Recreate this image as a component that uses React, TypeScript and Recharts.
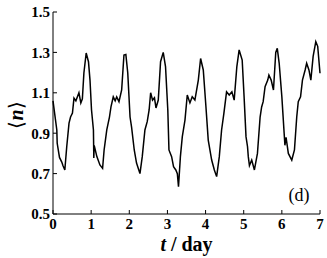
import { LineChart, Line, XAxis, YAxis, Label } from 'recharts';

// time in days and mean occupation <n>
const timeDays = [
  0.0, 0.1, 0.11, 0.17, 0.23, 0.26, 0.31, 0.36, 0.42, 0.46, 0.51, 0.55, 0.6, 0.64, 0.68, 0.73, 0.77, 0.81, 0.87,
  0.93, 0.97, 1.01, 1.06, 1.07, 1.08, 1.15, 1.23, 1.3, 1.34, 1.41, 1.48, 1.52, 1.58, 1.63, 1.67, 1.73, 1.8, 1.86,
  1.91, 1.96, 2.02, 2.06, 2.13, 2.19, 2.28, 2.34, 2.41, 2.47, 2.52, 2.56, 2.61, 2.66, 2.7, 2.76, 2.82, 2.89, 2.95,
  3.01, 3.04, 3.11, 3.16, 3.22, 3.26, 3.29, 3.34, 3.39, 3.46, 3.52, 3.59, 3.65, 3.72, 3.81, 3.87, 3.94, 4.01, 4.07,
  4.16, 4.23, 4.29, 4.36, 4.42, 4.48, 4.55, 4.62, 4.69, 4.75, 4.82, 4.88, 4.96, 5.01, 5.06, 5.1, 5.12, 5.15, 5.21,
  5.28, 5.36, 5.43, 5.47, 5.51, 5.56, 5.63, 5.66, 5.72, 5.78, 5.84, 5.88, 5.93, 6.0, 6.06, 6.08, 6.11, 6.17, 6.26,
  6.33, 6.39, 6.43, 6.49, 6.54, 6.61, 6.65, 6.71, 6.76, 6.82, 6.89, 6.94, 7.0,
];
const meanN = [
  1.06, 0.916, 0.85, 0.78, 0.757, 0.74, 0.718, 0.833, 0.95, 0.98, 1.0, 1.074, 1.06, 1.08, 1.1, 1.05, 1.07, 1.198,
  1.297, 1.254, 1.163, 1.015, 0.916, 0.777, 0.84, 0.784, 0.743, 0.726, 0.817, 0.916, 0.98, 1.03, 1.08, 1.06, 1.08,
  1.056, 1.114, 1.287, 1.29, 1.198, 0.98, 0.93, 0.817, 0.752, 0.7, 0.784, 0.916, 0.957, 1.015, 1.1, 1.064, 1.075,
  1.025, 1.064, 1.254, 1.3, 1.23, 1.015, 0.817, 0.784, 0.734, 0.718, 0.7, 0.635, 0.784, 0.883, 0.965, 1.089, 1.05,
  1.08, 1.064, 1.163, 1.27, 1.213, 1.03, 0.866, 0.767, 0.718, 0.685, 0.784, 0.916, 0.998, 1.105, 1.089, 1.105,
  1.064, 1.23, 1.312, 1.262, 1.08, 0.883, 0.833, 0.784, 0.74, 0.767, 0.718, 0.8, 0.98, 1.03, 1.056, 1.13, 1.163,
  1.188, 1.163, 1.114, 1.3, 1.32, 1.246, 1.08, 0.9, 0.84, 0.88, 0.8, 0.767, 0.817, 0.98, 1.056, 1.08, 1.163, 1.213,
  1.246, 1.213, 1.163, 1.28, 1.353, 1.33, 1.197,
];
const xTicks = [0, 1, 2, 3, 4, 5, 6, 7];
const yTicks = [0.5, 0.7, 0.9, 1.1, 1.3, 1.5];

const data = timeDays.map((t, i) => ({ t, n: meanN[i] }));

const serif = '"Liberation Serif", "Times New Roman", serif';
const yTickStyle = { fill: '#000', fontFamily: serif, fontWeight: 700, fontSize: 15 };
const xTickStyle = { fill: '#000', fontFamily: serif, fontWeight: 700, fontSize: 15 };

const XTitle = (props: any) => {
  const { x, y, width } = props.viewBox;
  return (
    <text x={x + width / 2} y={y + 37} textAnchor="middle" fontFamily={serif} fontWeight={700} fontSize={20} fill="#000">
      <tspan fontStyle="italic">t</tspan>
      <tspan> / day</tspan>
    </text>
  );
};

const YTitle = (props: any) => {
  const { y, height } = props.viewBox;
  const cx = 16;
  const cy = y + height / 2 + 2;
  return (
    <text
      x={cx}
      y={cy}
      textAnchor="middle"
      dominantBaseline="central"
      transform={`rotate(-90, ${cx}, ${cy})`}
      fontFamily={serif}
      fontSize={20}
      fill="#000"
    >
      <tspan>⟨</tspan>
      <tspan fontWeight={700} fontStyle="italic">n</tspan>
      <tspan>⟩</tspan>
    </text>
  );
};

export default function App() {
  return (
    <div style={{ position: 'absolute', left: 0, top: 0, background: '#fff' }}>
      <LineChart width={327} height={258} data={data} margin={{ top: 12, right: 7, bottom: 0, left: 0 }}>
        <XAxis
          dataKey="t"
          type="number"
          domain={[0, 7]}
          ticks={xTicks}
          height={44}
          tickSize={-4}
          tickMargin={8}
          stroke="#000"
          tick={xTickStyle}
        >
          <Label content={XTitle} />
        </XAxis>
        <XAxis
          xAxisId="top"
          orientation="top"
          type="number"
          domain={[0, 7]}
          ticks={xTicks}
          height={0}
          tickSize={-4}
          tick={false}
          stroke="#000"
        />
        <YAxis
          type="number"
          domain={[0.5, 1.5]}
          ticks={yTicks}
          width={53}
          tickSize={-4}
          tickMargin={7}
          stroke="#000"
          tick={yTickStyle}
          tickFormatter={(v: number) => v.toFixed(1)}
        >
          <Label content={YTitle} />
        </YAxis>
        <YAxis
          yAxisId="right"
          orientation="right"
          type="number"
          domain={[0.5, 1.5]}
          ticks={yTicks}
          width={0}
          tickSize={-4}
          tick={false}
          stroke="#000"
        />
        <Line
          type="linear"
          dataKey="n"
          stroke="#000"
          strokeWidth={1.5}
          dot={false}
          isAnimationActive={false}
        />
        <text x={299} y={201} textAnchor="middle" fontFamily={serif} fontSize={18} fill="#000">
          (d)
        </text>
      </LineChart>
    </div>
  );
}
